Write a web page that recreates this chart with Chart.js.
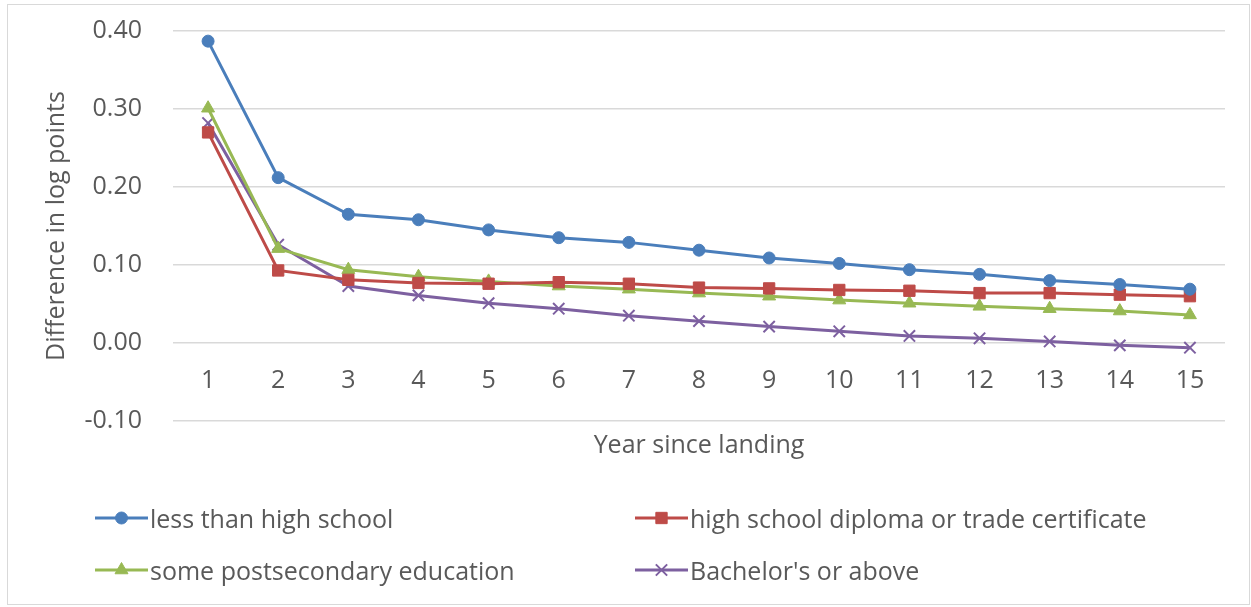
<!DOCTYPE html>
<html>
<head>
<meta charset="utf-8">
<script src="https://cdn.jsdelivr.net/npm/chart.js@4.4.1/dist/chart.umd.min.js"></script>
<style>
html,body{margin:0;padding:0;background:#fff;}
#wrap{position:relative;width:1251px;height:607px;overflow:hidden;background:#fff;}
#frame{position:absolute;left:7px;top:4px;width:1243px;height:601px;border:1px solid #d9d9d9;box-sizing:border-box;}
#c{position:absolute;left:0;top:0;}
#legend{position:absolute;left:0;top:0;width:1251px;height:607px;font-family:'Open Sans',sans-serif;font-size:25px;color:#595959;}
.item{position:absolute;display:flex;align-items:center;height:34px;white-space:nowrap;}
.item canvas{display:block;margin-right:2px;}
</style>
</head>
<body>
<div id="wrap">
  <div id="frame"></div>
  <canvas id="c" width="1251" height="607"></canvas>
  <div id="legend"></div>
</div>
<script>
// ---- data ----
const categories = ['1','2','3','4','5','6','7','8','9','10','11','12','13','14','15'];
const seriesNames = ['less than high school','high school diploma or trade certificate','some postsecondary education',"Bachelor's or above"];
const lessThanHighSchool = [0.387,0.212,0.165,0.158,0.145,0.135,0.129,0.119,0.109,0.102,0.094,0.088,0.080,0.075,0.069];
const highSchoolOrTrade  = [0.270,0.093,0.081,0.077,0.076,0.078,0.076,0.071,0.070,0.068,0.067,0.064,0.064,0.062,0.060];
const somePostsecondary  = [0.301,0.121,0.094,0.085,0.079,0.073,0.069,0.064,0.060,0.055,0.051,0.047,0.044,0.041,0.036];
const bachelorOrAbove    = [0.282,0.126,0.073,0.061,0.051,0.044,0.035,0.028,0.021,0.015,0.009,0.006,0.002,-0.003,-0.006];
const yTickValues = [-0.10,0.00,0.10,0.20,0.30,0.40];
const xAxisTitle = 'Year since landing';
const yAxisTitle = 'Difference in log points';

const colors = ['#4a7ebb','#be4b48','#98b954','#7d60a0'];
const styles = [
  {pointStyle:'circle', pointRadius:6},
  {pointStyle:'rect', pointRadius:8},
  {pointStyle:'triangle', pointRadius:7.5},
  {pointStyle:'crossRot', pointRadius:8}
];
const seriesValues = [lessThanHighSchool, highSchoolOrTrade, somePostsecondary, bachelorOrAbove];

const FONT = "'Open Sans', sans-serif";
const FS = 25;
const TEXT = '#595959';

const datasets = seriesValues.map((vals,i)=>({
  label: seriesNames[i],
  data: vals,
  borderColor: colors[i],
  backgroundColor: colors[i],
  pointBorderColor: colors[i],
  pointBackgroundColor: colors[i],
  borderWidth: 3,
  pointBorderWidth: i===3 ? 2 : 1,
  pointStyle: styles[i].pointStyle,
  pointRadius: styles[i].pointRadius,
  tension: 0,
  fill: false
}));

const chart = new Chart(document.getElementById('c'), {
  type: 'line',
  data: { labels: categories, datasets },
  options: {
    responsive: false,
    animation: false,
    devicePixelRatio: 1,
    layout: { padding: { left: 0, right: 26, top: 31, bottom: 140 } },
    plugins: { legend: { display: false }, tooltip: { enabled: false } },
    scales: {
      x: {
        type: 'category',
        position: { y: 0 },
        offset: true,
        grid: { display: false, drawTicks: false },
        border: { display: false },
        ticks: { color: TEXT, font: { family: FONT, size: FS }, padding: 23, maxRotation: 0, autoSkip: false },
        afterFit: s => { s.height = 0; }
      },
      x2: {
        type: 'category',
        position: 'bottom',
        offset: true,
        grid: { display: false, drawTicks: false },
        border: { display: false },
        ticks: { display: false },
        title: { display: true, text: xAxisTitle, color: TEXT, font: { family: FONT, size: FS }, padding: { top: 4, bottom: 6 } },
        afterFit: s => { s.height = 46; }
      },
      y: {
        min: Math.min(...yTickValues),
        max: Math.max(...yTickValues),
        afterBuildTicks: s => { s.ticks = yTickValues.map(v => ({ value: v })); },
        grid: { color: '#d9d9d9', lineWidth: 1.5, drawTicks: false },
        border: { display: false },
        ticks: { color: TEXT, font: { family: FONT, size: FS }, padding: 31, callback: v => Number(v).toFixed(2) },
        title: { display: true, text: yAxisTitle, color: TEXT, font: { family: FONT, size: FS }, padding: { top: 42, bottom: 0 } },
        afterFit: s => { s.width = 173; s.paddingTop = 10; s.paddingBottom = 10; }
      }
    }
  }
});

// ---- HTML legend built from the chart's datasets ----
const legendPos = [[95,518],[635,518],[95,570],[635,570]];
const legendEl = document.getElementById('legend');
chart.data.datasets.forEach((ds,i)=>{
  const item = document.createElement('div');
  item.className = 'item';
  item.style.left = legendPos[i][0] + 'px';
  item.style.top = (legendPos[i][1] - 17) + 'px';
  const ic = document.createElement('canvas');
  ic.width = 53; ic.height = 20;
  const g = ic.getContext('2d');
  g.strokeStyle = ds.borderColor; g.lineWidth = 3;
  g.beginPath(); g.moveTo(0,10); g.lineTo(53,10); g.stroke();
  g.fillStyle = ds.pointBackgroundColor; g.strokeStyle = ds.pointBorderColor; g.lineWidth = ds.pointBorderWidth;
  g.beginPath();
  Chart.helpers.drawPoint(g, {pointStyle: ds.pointStyle, radius: ds.pointRadius, borderWidth: ds.pointBorderWidth, rotation: 0}, 26.5, 10);
  item.appendChild(ic);
  const t = document.createElement('span');
  t.textContent = ds.label;
  item.appendChild(t);
  legendEl.appendChild(item);
});
</script>
</body>
</html>
